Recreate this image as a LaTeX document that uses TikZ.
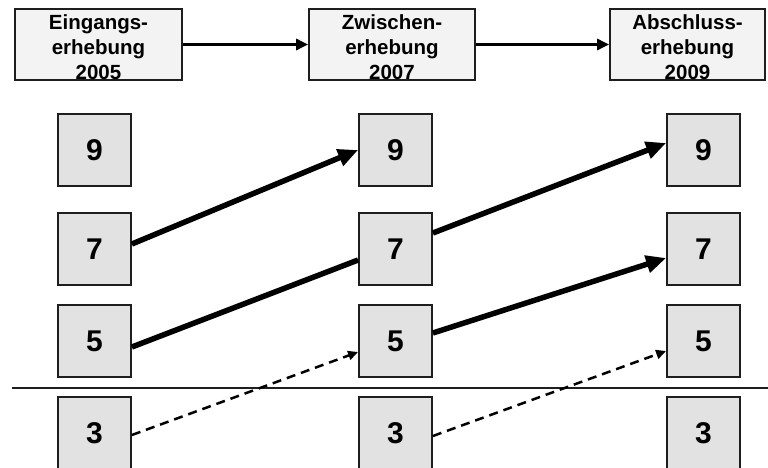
\documentclass[tikz,border=0pt]{standalone}
\usepackage{fontspec}
\setmainfont{Liberation Sans}
\usetikzlibrary{arrows.meta}
\definecolor{boxgray}{HTML}{E2E2E2}
\definecolor{headfill}{HTML}{F3F3F3}
\definecolor{edgecol}{HTML}{1E1E1E}
\begin{document}
\begin{tikzpicture}[x=1pt,y=-1pt,
 numbox/.style={draw=edgecol, line width=1.8pt, fill=boxgray, minimum width=73pt, minimum height=72pt, inner sep=0pt, font=\fontsize{30}{30}\selectfont\bfseries},
 headbox/.style={draw=edgecol, line width=1.8pt, fill=headfill, minimum height=71pt, inner sep=0pt},
 headtext/.style={align=center, font=\fontsize{20.5}{25}\selectfont\bfseries, inner sep=0pt},
 flow/.style={line width=3pt, -{Triangle[length=12pt,width=11pt]}},
 move/.style={line width=5.5pt, -{Triangle[length=20pt,width=17pt]}},
 moveplain/.style={line width=5.5pt},
 drop/.style={line width=2.5pt, dash pattern=on 9pt off 6pt, -{Triangle[length=10pt,width=9pt]}}]
\useasboundingbox (0,0) rectangle (768,468);

% header boxes
\node[headbox, minimum width=167pt] (h1) at (98.5,44.5) {};
\node[headbox, minimum width=166pt] (h2) at (392,44.5) {};
\node[headbox, minimum width=155pt] (h3) at (687.5,44.5) {};
\node[headtext] (t1) at (98.5,47) {Eingangs-\\erhebung\\2005};
\node[headtext] (t2) at (392,47) {Zwischen-\\erhebung\\2007};
\node[headtext] (t3) at (687.5,47) {Abschluss-\\erhebung\\2009};
\draw[flow] (h1.east) -- (h2.west);
\draw[flow] (h2.east) -- (h3.west);

% separator
\coordinate (sepL) at (12,388);
\coordinate (sepR) at (768,388);
\draw[line width=2.3pt, edgecol] (sepL) -- (sepR);

% number boxes
\foreach \c/\x in {1/94.5, 2/395.5, 3/703.5}{
  \node[numbox] (c\c r9) at (\x,150) {9};
  \node[numbox] (c\c r7) at (\x,249) {7};
  \node[numbox] (c\c r5) at (\x,341) {5};
  \node[numbox] (c\c r3) at (\x,433) {3};
}

% transitions
\draw[move] ([yshift=5pt]c1r7.east) -- (c2r9.west);
\draw[moveplain] ([yshift=-6pt]c1r5.east) -- ([yshift=-11pt]c2r7.west);
\draw[move] ([yshift=16pt]c2r7.east) -- ([yshift=7pt]c3r9.west);
\draw[move] ([yshift=8pt]c2r5.east) -- ([yshift=-9pt]c3r7.west);
\draw[drop] ([yshift=-2pt]c1r3.east) -- ([yshift=-11pt]c2r5.west);
\draw[drop] ([yshift=-3pt]c2r3.east) -- ([yshift=-10pt]c3r5.west);
\end{tikzpicture}
\end{document}
